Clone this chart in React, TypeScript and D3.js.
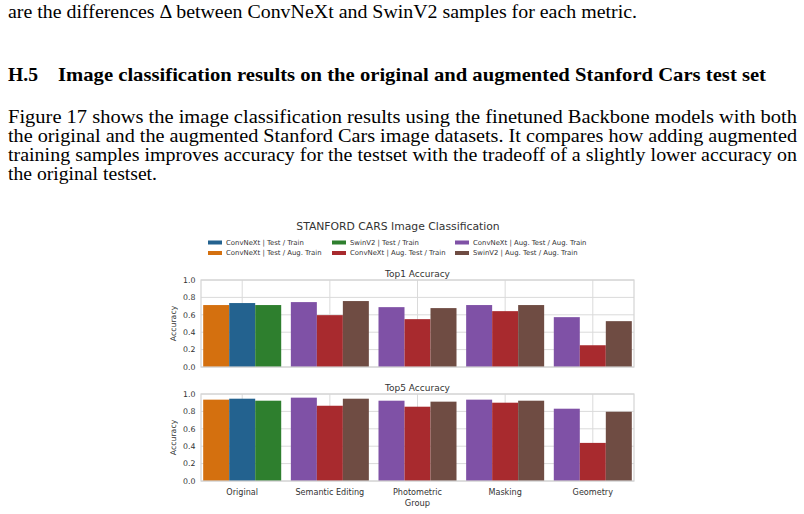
import React from "react";
import * as d3 from "d3";

const groups = ["Original", "Semantic Editing", "Photometric", "Masking", "Geometry"];
const seriesNames = [
  "ConvNeXt | Test / Aug. Train",
  "ConvNeXt | Test / Train",
  "SwinV2 | Test / Train",
  "ConvNeXt | Aug. Test / Aug. Train",
  "ConvNeXt | Aug. Test / Train",
  "SwinV2 | Aug. Test / Aug. Train",
];
const seriesColors = ["#d4700f", "#23628f", "#2e7f2e", "#7f51a6", "#a82a2e", "#6f4c43"];

// Top1 accuracy per series (null = not present in group)
const top1Orange = [0.712, null, null, null, null];
const top1Blue = [0.735, null, null, null, null];
const top1Green = [0.712, null, null, null, null];
const top1Purple = [null, 0.746, 0.688, 0.712, 0.573];
const top1Red = [null, 0.596, 0.55, 0.642, 0.25];
const top1Brown = [null, 0.758, 0.677, 0.712, 0.527];

// Top5 accuracy
const top5Orange = [0.935, null, null, null, null];
const top5Blue = [0.946, null, null, null, null];
const top5Green = [0.923, null, null, null, null];
const top5Purple = [null, 0.958, 0.923, 0.935, 0.831];
const top5Red = [null, 0.865, 0.854, 0.9, 0.438];
const top5Brown = [null, 0.946, 0.912, 0.923, 0.796];

const yTicks = [0, 0.2, 0.4, 0.6, 0.8, 1.0];

// legend layout order (row-major as shown)
const legendOrder = [1, 2, 3, 0, 4, 5];

const top1Series = [top1Orange, top1Blue, top1Green, top1Purple, top1Red, top1Brown];
const top5Series = [top5Orange, top5Blue, top5Green, top5Purple, top5Red, top5Brown];

const paraLines = [
  "Figure 17 shows the image classification results using the finetuned Backbone models with both",
  "the original and the augmented Stanford Cars image datasets. It compares how adding augmented",
  "training samples improves accuracy for the testset with the tradeoff of a slightly lower accuracy on",
  "the original testset.",
];
const paraWidths = [789, 789, 789, 149];

const X0 = 201, X1 = 634;
const grid = "#dadada";
const txt = "#333333";
const chartFont = "DejaVu Sans, sans-serif";

function Panel({ series, top, bottom, title, showX }: any) {
  const x = d3.scaleBand<string>().domain(groups).range([X0, X1]).paddingInner(0.11).paddingOuter(0.025);
  const y = d3.scaleLinear().domain([0, 1]).range([bottom, top]);
  const bars: any[] = [];
  groups.forEach((g, gi) => {
    const present = series.map((s: any, si: number) => ({ si, v: s[gi] })).filter((d: any) => d.v !== null);
    const sub = d3.scaleBand<number>().domain(present.map((_: any, i: number) => i)).range([0, x.bandwidth()]);
    present.forEach((d: any, i: number) => {
      bars.push(
        <rect key={`${gi}-${d.si}`} x={(x(g) as number) + (sub(i) as number)} width={sub.bandwidth()}
          y={y(d.v)} height={y(0) - y(d.v)} fill={seriesColors[d.si]} />
      );
    });
  });
  return (
    <g>
      {yTicks.map((t) => (
        <line key={"h" + t} x1={X0} x2={X1} y1={y(t)} y2={y(t)} stroke={grid} strokeWidth={1} />
      ))}
      {groups.map((g) => {
        const cx = (x(g) as number) + x.bandwidth() / 2;
        return <line key={"v" + g} x1={cx} x2={cx} y1={top} y2={bottom} stroke={grid} strokeWidth={1} />;
      })}
      {bars}
      <rect x={X0} y={top} width={X1 - X0} height={bottom - top} fill="none" stroke="#d4d4d4" strokeWidth={1.2} />
      {yTicks.map((t) => (
        <text key={"t" + t} x={195.5} y={y(t)} dy="0.35em" textAnchor="end" fontSize={7.8} fill={txt} fontFamily={chartFont}>
          {t.toFixed(1)}
        </text>
      ))}
      <text x={(X0 + X1) / 2} y={top - 3} textAnchor="middle" fontSize={9} fill={txt} fontFamily={chartFont}>{title}</text>
      <text transform={`translate(176,${(top + bottom) / 2}) rotate(-90)`} textAnchor="middle" fontSize={7.8} fill={txt} fontFamily={chartFont}>Accuracy</text>
      {showX && groups.map((g) => (
        <text key={"x" + g} x={(x(g) as number) + x.bandwidth() / 2} y={bottom + 14} textAnchor="middle" fontSize={8.1} fill={txt} fontFamily={chartFont}>{g}</text>
      ))}
      {showX && (
        <text x={(X0 + X1) / 2} y={bottom + 25} textAnchor="middle" fontSize={8.3} fill={txt} fontFamily={chartFont}>Group</text>
      )}
    </g>
  );
}

export default function App() {
  const serif = "Liberation Serif, Times New Roman, serif";
  const legendCols = [208, 332, 455];
  const legendRows = [242.5, 253];
  return (
    <svg width={804} height={514} style={{ position: "absolute", left: 0, top: 0, background: "#fff" }}>
      <rect width={804} height={514} fill="#fff" />
      <text x={8} y={18} fontFamily={serif} fontSize={18.5} fill="#000" textLength={629} lengthAdjust="spacingAndGlyphs">
        are the differences Δ between ConvNeXt and SwinV2 samples for each metric.
      </text>
      <text x={8} y={81} fontFamily={serif} fontSize={19} fontWeight="bold" fill="#000" textLength={30} lengthAdjust="spacingAndGlyphs">H.5</text>
      <text x={58} y={81} fontFamily={serif} fontSize={19} fontWeight="bold" fill="#000" textLength={708} lengthAdjust="spacingAndGlyphs">
        Image classification results on the original and augmented Stanford Cars test set
      </text>
      {paraLines.map((l, i) => (
        <text key={i} x={8} y={123 + i * 19} fontFamily={serif} fontSize={18.5} fill="#000" textLength={paraWidths[i]} lengthAdjust="spacingAndGlyphs">{l}</text>
      ))}

      <text x={398} y={230} textAnchor="middle" fontSize={10.8} fill={txt} fontFamily={chartFont}>STANFORD CARS Image Classification</text>
      {legendOrder.map((si, k) => {
        const cx = legendCols[k % 3];
        const cy = legendRows[Math.floor(k / 3)];
        return (
          <g key={"l" + si}>
            <rect x={cx} y={cy - 2} width={14} height={4} fill={seriesColors[si]} />
            <text x={cx + 18} y={cy} dy="0.35em" fontSize={6.9} fill={txt} fontFamily={chartFont}>{seriesNames[si]}</text>
          </g>
        );
      })}

      <Panel series={top1Series} top={280} bottom={367} title="Top1 Accuracy" showX={false} />
      <Panel series={top5Series} top={394} bottom={481} title="Top5 Accuracy" showX={true} />
    </svg>
  );
}
